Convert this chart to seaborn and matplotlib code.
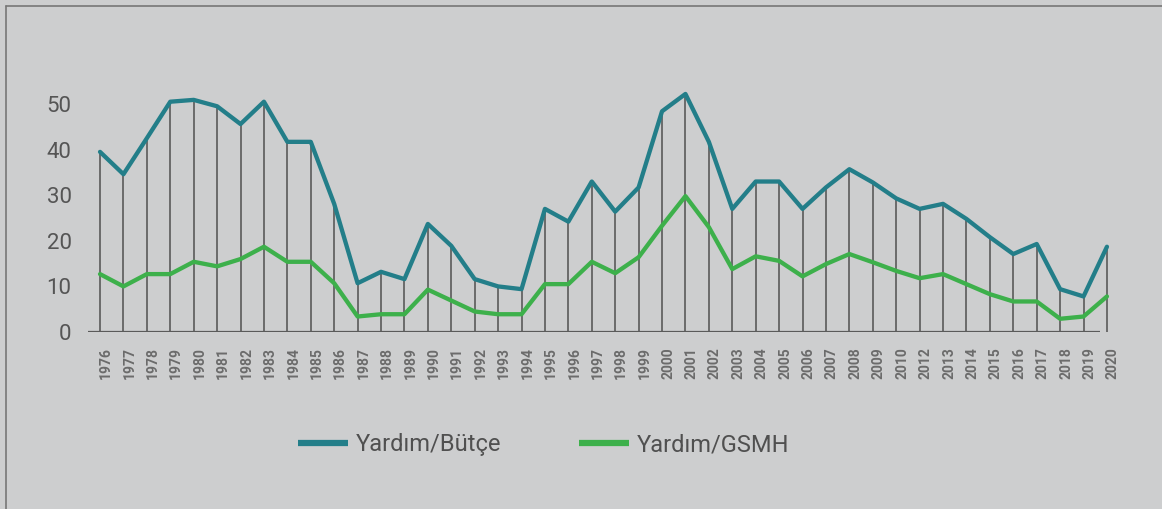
import numpy as np
import pandas as pd
import matplotlib.pyplot as plt
import matplotlib.transforms as mtransforms
import seaborn as sns

# -----------------------------
# Data
# -----------------------------
years = [str(y) for y in range(1976, 2011)] + [str(y) for y in range(2012, 2021)]

butce = [39.5, 34.6, 42.5, 50.5, 50.9, 49.5, 45.6, 50.5, 41.7, 41.7,
         28.1, 10.7, 13.2, 11.6, 23.7, 18.9, 11.6, 10.0, 9.4, 27.0,
         24.2, 33.0, 26.4, 31.7, 48.4, 52.2, 41.7, 27.0, 33.0, 33.0,
         27.0, 31.7, 35.7, 32.8, 29.3, 27.0, 28.1, 24.8, 20.8, 17.1,
         19.3, 9.4, 7.8, 18.7]

gsmh = [12.7, 10.0, 12.7, 12.7, 15.4, 14.4, 16.0, 18.7, 15.4, 15.4,
        10.7, 3.4, 3.9, 3.9, 9.3, 6.9, 4.5, 3.9, 3.9, 10.5,
        10.5, 15.4, 12.9, 16.4, 23.3, 29.8, 23.0, 13.8, 16.6, 15.6,
        12.2, 14.9, 17.1, 15.3, 13.4, 11.8, 12.7, 10.5, 8.3, 6.7,
        6.7, 2.9, 3.4, 7.8]

series_names = ["Yardım/Bütçe", "Yardım/GSMH"]
series_colors = ["#237e89", "#3db04b"]

idx = np.arange(len(years))
df = pd.DataFrame({
    "pos": np.concatenate([idx, idx]),
    "value": butce + gsmh,
    "series": [series_names[0]] * len(years) + [series_names[1]] * len(years),
})

# -----------------------------
# Style
# -----------------------------
bg = "#cdcecf"
sns.set_theme(style="white", rc={"figure.facecolor": bg, "axes.facecolor": bg})
plt.rcParams["font.family"] = ["Roboto", "DejaVu Sans"]

fig = plt.figure(figsize=(11.62, 5.09), dpi=100)
ax = fig.add_axes([0.076, 0.3477, 0.8867, 0.5376])

# drop lines from 0 to the top series
ax.vlines(idx, 0, np.maximum(butce, gsmh), color="#5a5a5a", lw=1.2, zorder=1)

sns.lineplot(data=df, x="pos", y="value", hue="series", palette=series_colors,
             linewidth=3.1, ax=ax, legend=True, zorder=3)

ax.hlines(0, -0.5, 42.7, color="#5a5a5a", lw=1.6, zorder=2)

ax.set_xlim(-0.5, 43.5)
ax.set_ylim(0, 60)
sns.despine(ax=ax, left=True, bottom=True)

ax.set_xticks(idx)
ax.set_xticklabels(years, rotation=90, fontsize=10, fontweight="bold", color="#6b6b6b")
ax.set_yticks([0, 10, 20, 30, 40, 50])
ax.tick_params(axis="y", labelsize=16, labelcolor="#555555", length=0, pad=12)
ax.tick_params(axis="x", length=0, pad=11)
offset = mtransforms.ScaledTranslation(6 / 100, 0, fig.dpi_scale_trans)
for lab in ax.get_xticklabels():
    lab.set_va("top")
    lab.set_transform(lab.get_transform() + offset)
ax.set_xlabel("")
ax.set_ylabel("")

handles, labels = ax.get_legend_handles_labels()
for h in handles:
    h.set_linewidth(4.5)
    h.set_solid_capstyle("butt")
ax.legend(handles, labels, loc="center", bbox_to_anchor=(0.468, 0.126),
          bbox_transform=fig.transFigure, ncol=2, frameon=False,
          fontsize=17, labelcolor="#505050", handlelength=2.1,
          handletextpad=0.35, columnspacing=3.3)

# outer frame (left and top visible in the reference)
fig.add_artist(plt.Line2D([5.5 / 1162, 5.5 / 1162], [0, 1 - 6 / 509],
                          transform=fig.transFigure, color="#777777", lw=1.2))
fig.add_artist(plt.Line2D([5.5 / 1162, 1], [1 - 6 / 509, 1 - 6 / 509],
                          transform=fig.transFigure, color="#777777", lw=1.2))

fig.savefig("out.png", dpi=100, facecolor=bg)
